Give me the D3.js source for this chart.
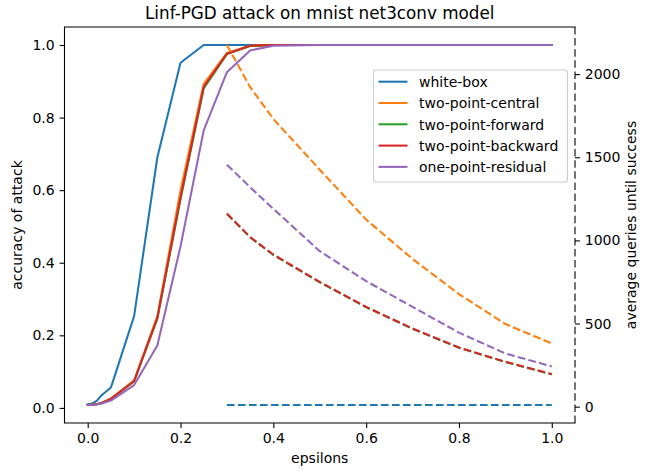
<!DOCTYPE html>
<html>
<head>
<meta charset="utf-8">
<script src="https://cdn.jsdelivr.net/npm/d3@7"></script>
<style>
    body { margin: 0; background: #fff; }
    svg { display: block; font-family: "DejaVu Sans", sans-serif; }
</style>
</head>
<body>
<svg id="chart" width="652" height="472"></svg>
<script>

// accuracy of attack, solid lines (left axis)
var epsAcc = [0, 0.01, 0.02, 0.03, 0.05, 0.1, 0.15, 0.2, 0.25, 0.3, 0.35, 0.4, 0.5, 0.6, 0.7, 0.8, 0.9, 1.0];
var whiteBoxAcc = [0.01, 0.012, 0.02, 0.035, 0.056, 0.253, 0.69, 0.951, 1, 1, 1, 1, 1, 1, 1, 1, 1, 1];
var centralAcc = [0.008, 0.009, 0.011, 0.014, 0.026, 0.076, 0.252, 0.6, 0.893, 0.978, 0.998, 1, 1, 1, 1, 1, 1, 1];
var forwardAcc = [0.008, 0.009, 0.01, 0.013, 0.025, 0.073, 0.245, 0.575, 0.88, 0.975, 0.997, 1, 1, 1, 1, 1, 1, 1];
var backwardAcc = [0.008, 0.009, 0.01, 0.014, 0.025, 0.074, 0.248, 0.58, 0.885, 0.976, 0.998, 1, 1, 1, 1, 1, 1, 1];
var residualAcc = [0.008, 0.008, 0.01, 0.012, 0.02, 0.063, 0.172, 0.445, 0.765, 0.925, 0.985, 0.998, 1, 1, 1, 1, 1, 1];

// average queries until success, dashed lines (right axis)
var epsQuery = [0.3, 0.35, 0.4, 0.5, 0.6, 0.7, 0.8, 0.9, 1.0];
var whiteBoxQuery = [10, 10, 10, 10, 10, 10, 10, 10, 10];
var centralQuery = [2175, 1922, 1730, 1425, 1125, 888, 677, 497, 380];
var forwardQuery = [1158, 1018, 912, 748, 598, 468, 354, 268, 194];
var backwardQuery = [1162, 1020, 915, 750, 600, 470, 356, 270, 196];
var residualQuery = [1455, 1320, 1190, 935, 755, 600, 445, 320, 242];

var seriesNames = ["white-box", "two-point-central", "two-point-forward", "two-point-backward", "one-point-residual"];
var accTicks = [0, 0.2, 0.4, 0.6, 0.8, 1.0];
var epsTicks = [0, 0.2, 0.4, 0.6, 0.8, 1.0];
var queryTicks = [0, 500, 1000, 1500, 2000];


class AttackGraph {

    constructor(id) {

        this.svg = d3.select("#" + id);

        // plot box
        this.left = 64.5;
        this.right = 575;
        this.top = 27;
        this.bottom = 423;

        this.color = ['#1f77b4', '#ff7f0e', '#2ca02c', '#d62728', '#9467bd'];
        this.fontSize = 14;
        this.tick = 4.9;

    }

    setup() {
        this.computeScales();
        this.drawAccuracy();
        this.drawAxes();
        this.drawLegend();
        this.drawQueries();
        this.drawRightAxis();
        this.drawText();
    }

    // matplotlib style 5% margins
    padded(values) {
        var lo = d3.min(values);
        var hi = d3.max(values);
        var m = (hi - lo) * 0.05;
        return [lo - m, hi + m];
    }

    computeScales() {

        this.x = d3.scaleLinear()
            .domain(this.padded(epsAcc))
            .range([this.left, this.right]);

        var acc = [].concat(whiteBoxAcc, centralAcc, forwardAcc, backwardAcc, residualAcc);
        this.yAcc = d3.scaleLinear()
            .domain(this.padded(acc))
            .range([this.bottom, this.top]);

        var q = [].concat(whiteBoxQuery, centralQuery, forwardQuery, backwardQuery, residualQuery);
        this.yQuery = d3.scaleLinear()
            .domain(this.padded(q))
            .range([this.bottom, this.top]);

    }

    drawAccuracy() {

        var series = [whiteBoxAcc, centralAcc, forwardAcc, backwardAcc, residualAcc];
        var line = d3.line()
            .x(d => this.x(d[0]))
            .y(d => this.yAcc(d[1]));

        for (var idx = 0; idx < series.length; idx += 1) {

            var pts = d3.zip(epsAcc, series[idx]);

            this.svg.append("path")
                .attr("d", line(pts))
                .attr("fill", "none")
                .attr("stroke", this.color[idx])
                .attr("stroke-width", 2.05)
                .attr("stroke-linejoin", "round")
                .attr("stroke-linecap", "square");

        }

    }

    drawQueries() {

        var series = [whiteBoxQuery, centralQuery, forwardQuery, backwardQuery, residualQuery];
        var line = d3.line()
            .x(d => this.x(d[0]))
            .y(d => this.yQuery(d[1]));

        for (var idx = 0; idx < series.length; idx += 1) {

            var pts = d3.zip(epsQuery, series[idx]);

            this.svg.append("path")
                .attr("d", line(pts))
                .attr("fill", "none")
                .attr("stroke", this.color[idx])
                .attr("stroke-width", 2.05)
                .attr("stroke-dasharray", "7.7,3.3")
                .attr("stroke-linejoin", "round");

        }

    }

    drawAxes() {

        var xAxis = d3.axisBottom(this.x)
            .tickValues(epsTicks)
            .tickFormat(d3.format(".1f"))
            .tickSize(this.tick)
            .tickPadding(4.9);

        var gx = this.svg.append("g")
            .attr("transform", "translate(0," + this.bottom + ")")
            .call(xAxis);

        var yAxis = d3.axisLeft(this.yAcc)
            .tickValues(accTicks)
            .tickFormat(d3.format(".1f"))
            .tickSize(this.tick)
            .tickPadding(4.9);

        var gy = this.svg.append("g")
            .attr("transform", "translate(" + this.left + ",0)")
            .call(yAxis);

        [gx, gy].forEach(g => {
            g.select(".domain").remove();
            g.selectAll("line").attr("stroke", "#000").attr("stroke-width", 1.1);
            g.selectAll("text")
                .attr("font-family", "DejaVu Sans")
                .attr("font-size", this.fontSize)
                .attr("fill", "#000");
        });

        gx.selectAll("text").attr("dy", "0.72em");

        // left, top and bottom spines
        var spine = this.svg.append("path")
            .attr("d", "M" + this.right + "," + this.top
                + "H" + this.left + "V" + this.bottom + "H" + this.right)
            .attr("fill", "none")
            .attr("stroke", "#000")
            .attr("stroke-width", 1.1)
            .attr("stroke-linecap", "square");

    }

    drawRightAxis() {

        var yAxis = d3.axisRight(this.yQuery)
            .tickValues(queryTicks)
            .tickFormat(d3.format("d"))
            .tickSize(this.tick)
            .tickPadding(4.9);

        var g = this.svg.append("g")
            .attr("transform", "translate(" + this.right + ",0)")
            .call(yAxis);

        g.select(".domain").remove();
        g.selectAll("line").attr("stroke", "#000").attr("stroke-width", 1.1);
        g.selectAll("text")
            .attr("font-family", "DejaVu Sans")
            .attr("font-size", this.fontSize)
            .attr("fill", "#000");

        // the dashed right spine
        this.svg.append("line")
            .attr("x1", this.right)
            .attr("x2", this.right)
            .attr("y1", this.top)
            .attr("y2", this.bottom)
            .attr("stroke", "#000")
            .attr("stroke-width", 1.1)
            .attr("stroke-dasharray", "7.5,3.6");

    }

    drawLegend() {

        var lx = 373.5;
        var ly = 70;
        var w = 194;
        var h = 112;
        var row = 21.3;

        var g = this.svg.append("g");

        g.append("rect")
            .attr("x", lx)
            .attr("y", ly)
            .attr("width", w)
            .attr("height", h)
            .attr("rx", 2.8)
            .attr("fill", "#fff")
            .attr("fill-opacity", 0.8)
            .attr("stroke", "#cccccc")
            .attr("stroke-width", 1.1);

        for (var idx = 0; idx < seriesNames.length; idx += 1) {

            var cy = ly + 11.7 + row * idx;

            g.append("line")
                .attr("x1", lx + 5)
                .attr("x2", lx + 34)
                .attr("y1", cy)
                .attr("y2", cy)
                .attr("stroke", this.color[idx])
                .attr("stroke-width", 2.05);

            g.append("text")
                .attr("x", lx + 45.5)
                .attr("y", cy + 5.2)
                .attr("font-size", this.fontSize)
                .attr("fill", "#000")
                .text(seriesNames[idx]);

        }

    }

    drawText() {

        var cx = (this.left + this.right) / 2;
        var cy = (this.top + this.bottom) / 2;

        this.svg.append("text")
            .attr("x", cx)
            .attr("y", 18.7)
            .attr("text-anchor", "middle")
            .attr("font-size", 16.8)
            .attr("fill", "#000")
            .text("Linf-PGD attack on mnist net3conv model");

        this.svg.append("text")
            .attr("x", cx)
            .attr("y", 463)
            .attr("text-anchor", "middle")
            .attr("font-size", this.fontSize)
            .attr("fill", "#000")
            .text("epsilons");

        this.svg.append("text")
            .attr("transform", "translate(22," + cy + ") rotate(-90)")
            .attr("text-anchor", "middle")
            .attr("font-size", this.fontSize)
            .attr("fill", "#000")
            .text("accuracy of attack");

        this.svg.append("text")
            .attr("transform", "translate(636," + cy + ") rotate(-90)")
            .attr("text-anchor", "middle")
            .attr("font-size", this.fontSize)
            .attr("fill", "#000")
            .text("average queries until success");

    }

}

var graph = new AttackGraph("chart");
graph.setup();

</script>
</body>
</html>
